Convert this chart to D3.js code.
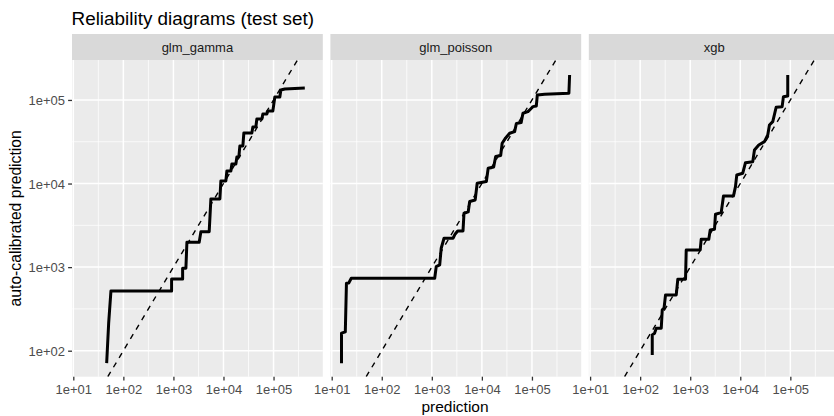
<!DOCTYPE html>
<html>
<head>
<meta charset="utf-8">
<script src="https://cdn.jsdelivr.net/npm/d3@7"></script>
<style>
  html, body { margin: 0; padding: 0; background: #ffffff; }
  svg { display: block; font-family: "Liberation Sans", Arial, Helvetica, sans-serif; }
</style>
</head>
<body>
<svg id="chart" width="834" height="416"></svg>
<script>
// ---------------- data ----------------
const panelNames = ["glm_gamma", "glm_poisson", "xgb"];

const gammaPred = [46.4, 50.9, 56.5, 920, 920, 1527, 1527, 1775, 1860, 3273, 3538, 5183, 5604, 8474, 8872, 11160, 11690, 14050, 14710, 17680, 18510, 20290, 21250, 24390, 25540, 36880, 38620, 44330, 46410, 58410, 61160, 73490, 76950, 96830, 106100, 133600, 139900, 168100, 421300];
const gammaCal  = [70.9, 215, 519, 519, 722, 722, 970, 970, 1985, 1985, 2658, 2658, 6543, 6543, 10740, 10740, 14150, 14150, 17160, 17160, 20810, 20810, 28170, 28170, 40300, 40300, 47540, 47540, 59250, 59250, 68000, 68000, 73850, 73850, 108600, 108600, 131700, 135400, 139200];

const poissonPred = [15.7, 15.7, 18.7, 19.7, 21.9, 24.6, 1142, 1224, 1437, 1540, 1752, 2650, 2931, 3288, 4195, 4393, 5327, 5706, 7349, 8056, 12290, 13360, 17200, 18860, 23730, 25420, 29850, 35870, 45130, 48820, 60860, 66120, 83200, 94190, 104700, 122400, 128100, 179200, 547600, 565400];
const poissonCal  = [70.9, 162, 168, 642, 647, 736, 736, 1014, 1062, 1683, 2217, 2217, 2495, 2710, 2710, 4413, 4574, 6107, 6364, 10080, 10590, 15240, 15800, 21100, 21680, 30340, 35120, 39970, 41770, 52350, 53520, 69330, 72440, 78050, 83170, 84770, 114800, 117000, 120300, 199100];

const xgbPred = [174.4, 174.4, 193.8, 209.6, 263.8, 276.2, 300, 321.3, 525.5, 565.4, 805.7, 832.1, 1583, 1658, 2351, 2507, 3055, 3198, 4156, 4620, 7315, 8019, 8514, 11210, 12700, 17760, 19200, 23400, 30410, 35390, 38260, 44540, 52060, 68590, 72820, 88760, 88760];
const xgbCal  = [89.1, 154.5, 162, 185.8, 185.8, 307.6, 322.4, 465.1, 465.1, 716.6, 716.6, 1606, 1606, 2157, 2157, 2786, 2840, 4294, 4487, 7107, 7107, 9181, 12670, 13280, 17780, 18280, 25230, 28950, 31710, 38130, 50230, 55010, 81790, 83170, 109500, 111600, 199100];

const xTickValues = [1e1, 1e2, 1e3, 1e4, 1e5];
const xTickLabels = ["1e+01", "1e+02", "1e+03", "1e+04", "1e+05"];
const yTickValues = [1e2, 1e3, 1e4, 1e5];
const yTickLabels = ["1e+02", "1e+03", "1e+04", "1e+05"];
const xMinorValues = [10 ** 1.5, 10 ** 2.5, 10 ** 3.5, 10 ** 4.5, 10 ** 5.5];
const yMinorValues = [10 ** 2.5, 10 ** 3.5, 10 ** 4.5];

const titleText = "Reliability diagrams (test set)";
const xTitle = "prediction";
const yTitle = "auto-calibrated prediction";

// ---------------- layout ----------------
const svg = d3.select("#chart");
svg.append("rect").attr("width", 834).attr("height", 416).attr("fill", "#ffffff");

const panelW = 250.8, gap = 7.6, panelLeft0 = 72;
const stripTop = 34, panelTop = 60, panelBottom = 376.7;
const xDomain = [10 ** 0.974, 10 ** 5.984];
const yDomain = [10 ** 1.689, 10 ** 5.478];

const y = d3.scaleLog().domain(yDomain).range([panelBottom, panelTop]);

const series = [
  { pred: gammaPred, cal: gammaCal },
  { pred: poissonPred, cal: poissonCal },
  { pred: xgbPred, cal: xgbCal }
];

const fontTick = 13;

panelNames.forEach((name, i) => {
  const left = panelLeft0 + i * (panelW + gap);
  const x = d3.scaleLog().domain(xDomain).range([left, left + panelW]);

  const g = svg.append("g");
  g.append("rect").attr("x", left).attr("y", panelTop).attr("width", panelW)
    .attr("height", panelBottom - panelTop).attr("fill", "#EBEBEB");

  g.selectAll(".xminor").data(xMinorValues).enter().append("line")
    .attr("x1", d => x(d)).attr("x2", d => x(d)).attr("y1", panelTop).attr("y2", panelBottom)
    .attr("stroke", "#ffffff").attr("stroke-width", 0.75);
  g.selectAll(".yminor").data(yMinorValues).enter().append("line")
    .attr("x1", left).attr("x2", left + panelW).attr("y1", d => y(d)).attr("y2", d => y(d))
    .attr("stroke", "#ffffff").attr("stroke-width", 0.75);
  g.selectAll(".xmajor").data(xTickValues).enter().append("line")
    .attr("x1", d => x(d)).attr("x2", d => x(d)).attr("y1", panelTop).attr("y2", panelBottom)
    .attr("stroke", "#ffffff").attr("stroke-width", 1.5);
  g.selectAll(".ymajor").data(yTickValues).enter().append("line")
    .attr("x1", left).attr("x2", left + panelW).attr("y1", d => y(d)).attr("y2", d => y(d))
    .attr("stroke", "#ffffff").attr("stroke-width", 1.5);

  const clipId = "clip" + i;
  svg.append("clipPath").attr("id", clipId).append("rect")
    .attr("x", left).attr("y", panelTop).attr("width", panelW).attr("height", panelBottom - panelTop);

  const lo = Math.max(xDomain[0], yDomain[0]);
  const hi = Math.min(xDomain[1], yDomain[1]);
  g.append("line").attr("clip-path", `url(#${clipId})`)
    .attr("x1", x(lo)).attr("y1", y(lo)).attr("x2", x(hi)).attr("y2", y(hi))
    .attr("stroke", "#000000").attr("stroke-width", 1.4).attr("stroke-dasharray", "5.5,5.5");

  const s = series[i];
  const pts = s.pred.map((p, k) => [p, s.cal[k]]);
  const line = d3.line().x(d => x(d[0])).y(d => y(d[1]));
  g.append("path").attr("clip-path", `url(#${clipId})`)
    .attr("d", line(pts)).attr("fill", "none").attr("stroke", "#000000")
    .attr("stroke-width", 3).attr("stroke-linejoin", "round").attr("stroke-linecap", "butt");

  g.append("rect").attr("x", left).attr("y", stripTop).attr("width", panelW)
    .attr("height", panelTop - stripTop).attr("fill", "#D9D9D9");
  g.append("text").attr("x", left + panelW / 2).attr("y", 51.5)
    .attr("text-anchor", "middle").attr("font-size", fontTick).attr("fill", "#1A1A1A").text(name);

  const xAxis = d3.axisBottom(x).tickValues(xTickValues)
    .tickFormat((d, k) => xTickLabels[k]).tickSize(3.9).tickPadding(3.1);
  const ax = svg.append("g").attr("transform", `translate(0,${panelBottom})`).call(xAxis);
  ax.select(".domain").remove();
  ax.selectAll(".tick line").attr("stroke", "#333333").attr("stroke-width", 1.3);
  ax.selectAll(".tick text").attr("fill", "#4D4D4D").attr("font-size", fontTick)
    .attr("font-family", "Liberation Sans, Arial, sans-serif").attr("y", 17.4).attr("dy", 0);

  if (i === 0) {
    const yAxis = d3.axisLeft(y).tickValues(yTickValues)
      .tickFormat((d, k) => yTickLabels[k]).tickSize(3.9).tickPadding(3.1);
    const ay = svg.append("g").attr("transform", `translate(${left},0)`).call(yAxis);
    ay.select(".domain").remove();
    ay.selectAll(".tick line").attr("stroke", "#333333").attr("stroke-width", 1.3);
    ay.selectAll(".tick text").attr("fill", "#4D4D4D").attr("font-size", fontTick)
      .attr("font-family", "Liberation Sans, Arial, sans-serif").attr("dy", "0.36em");
  }
});

svg.append("text").attr("x", 71.5).attr("y", 25).attr("font-size", 18.9)
  .attr("fill", "#000000").text(titleText);

svg.append("text").attr("x", 455).attr("y", 411.8).attr("text-anchor", "middle")
  .attr("font-size", 15.5).attr("fill", "#000000").text(xTitle);

svg.append("text").attr("transform", `translate(21,${(panelTop + panelBottom) / 2}) rotate(-90)`)
  .attr("text-anchor", "middle").attr("font-size", 15.7).attr("fill", "#000000").text(yTitle);
</script>
</body>
</html>
